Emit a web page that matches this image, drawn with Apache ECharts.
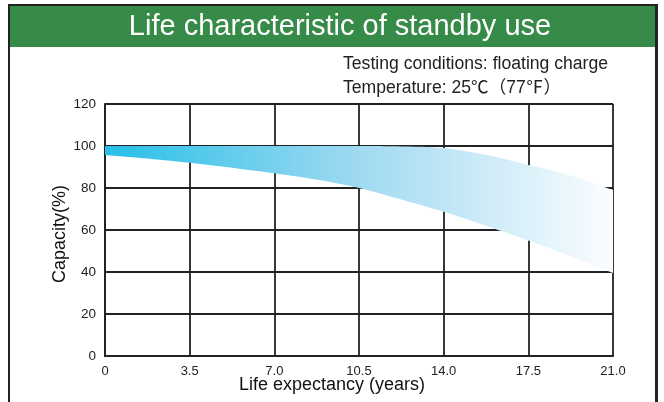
<!DOCTYPE html>
<html>
<head>
<meta charset="utf-8">
<script src="https://cdn.jsdelivr.net/npm/echarts@6/dist/echarts.min.js"></script>
<style>
html,body{margin:0;padding:0;background:#fff;}
#chart{width:664px;height:402px;}
</style>
</head>
<body>
<div id="chart"></div>
<script>
// Data
const titleText = 'Life characteristic of standby use';
const noteLines = ['Testing conditions: floating charge', 'Temperature: 25℃（77℉）'];
const xAxisTitle = 'Life expectancy (years)';
const yAxisTitle = 'Capacity(%)';
const xTicks = [0, 3.5, 7.0, 10.5, 14.0, 17.5, 21.0];
const yTicks = [0, 20, 40, 60, 80, 100, 120];
const years = [0, 1.75, 3.5, 5.25, 7, 8.75, 10.5, 12.25, 14, 15.75, 17.5, 19.25, 21];
const upperCapacity = [100, 100, 100, 100, 100, 100, 100, 99.8, 99, 95.8, 91, 86, 79];
const lowerCapacity = [95.7, 94, 92, 89.6, 87, 84, 80, 74.5, 68.7, 62, 55, 47.5, 39.5];

const chart = echarts.init(document.getElementById('chart'), null, {renderer: 'canvas'});
const font = '"Liberation Sans", Arial, sans-serif';

// smooth a pixel polyline with Catmull-Rom segments (drawing only)
function smoothPts(p) {
  const out = [];
  for (let i = 0; i < p.length - 1; i++) {
    const p0 = p[Math.max(i - 1, 0)], p1 = p[i], p2 = p[i + 1], p3 = p[Math.min(i + 2, p.length - 1)];
    for (let s = 0; s < 10; s++) {
      const t = s / 10, t2 = t * t, t3 = t2 * t;
      const f = (a, b, c, d) => 0.5 * ((2 * b) + (-a + c) * t + (2 * a - 5 * b + 4 * c - d) * t2 + (-a + 3 * b - 3 * c + d) * t3);
      out.push([f(p0[0], p1[0], p2[0], p3[0]), f(p0[1], p1[1], p2[1], p3[1])]);
    }
  }
  out.push(p[p.length - 1]);
  return out;
}

const option = {
  animation: false,
  backgroundColor: '#fff',
  grid: {left: 105, right: 51, top: 104, bottom: 46, containLabel: false},
  xAxis: {
    type: 'value', min: 0, max: 21, interval: 3.5,
    axisLine: {show: true, lineStyle: {color: '#222', width: 2}},
    axisTick: {show: false},
    splitLine: {show: true, lineStyle: {color: '#222', width: 1.8}},
    axisLabel: {
      color: '#222', fontSize: 13, fontFamily: font, margin: 9,
      formatter: v => (v === 0 ? '0' : v.toFixed(1))
    }
  },
  yAxis: {
    type: 'value', min: 0, max: 120, interval: 20,
    axisLine: {show: true, lineStyle: {color: '#222', width: 2}},
    axisTick: {show: false},
    splitLine: {show: true, lineStyle: {color: '#222', width: 1.8}},
    axisLabel: {color: '#222', fontSize: 13.5, fontFamily: font, margin: 9}
  },
  series: [{
    type: 'custom',
    clip: false,
    data: [[0, 100]],
    z: 5,
    renderItem: function (params, api) {
      const up = years.map((y, i) => api.coord([y, upperCapacity[i]]));
      const lo = years.map((y, i) => api.coord([y, lowerCapacity[i]]));
      const pts = smoothPts(up).concat(smoothPts(lo).reverse());
      const x0 = api.coord([years[0], 0])[0];
      const x1 = api.coord([years[years.length - 1], 0])[0];
      return {
        type: 'polygon',
        shape: {points: pts},
        style: {
          fill: new echarts.graphic.LinearGradient(x0, 0, x1, 0, [
            {offset: 0, color: '#27BFE8'},
            {offset: 0.5, color: '#A0DAF1'},
            {offset: 1, color: '#FBFDFF'}
          ], true),
          stroke: null
        }
      };
    }
  }],
  graphic: [
    {type: 'rect', shape: {x: 10, y: 6, width: 645, height: 41}, style: {fill: '#378B48'}, z: 10},
    {type: 'rect', shape: {x: 8, y: 4, width: 650, height: 2}, style: {fill: '#222'}, z: 11},
    {type: 'rect', shape: {x: 8, y: 4, width: 2, height: 398}, style: {fill: '#222'}, z: 11},
    {type: 'rect', shape: {x: 655, y: 4, width: 3, height: 398}, style: {fill: '#222'}, z: 11},
    {type: 'text', x: 340, y: 27, z: 12, style: {text: titleText, fill: '#fff', font: '29px ' + font, textAlign: 'center', textVerticalAlign: 'middle'}},
    {type: 'text', x: 343, y: 64, z: 12, style: {text: noteLines[0], fill: '#222', font: '17.6px ' + font, textAlign: 'left', textVerticalAlign: 'middle'}},
    {type: 'text', x: 343, y: 88, z: 12, style: {text: noteLines[1], fill: '#222', font: '17.6px ' + font + ', "Noto Sans CJK SC"', textAlign: 'left', textVerticalAlign: 'middle'}},
    {type: 'text', x: 332, y: 385, z: 12, style: {text: xAxisTitle, fill: '#111', font: '18px ' + font, textAlign: 'center', textVerticalAlign: 'middle'}},
    {type: 'text', x: 60, y: 234, rotation: Math.PI / 2, z: 12, style: {text: yAxisTitle, fill: '#111', font: '18px ' + font, textAlign: 'center', textVerticalAlign: 'middle'}}
  ]
};
chart.setOption(option);
</script>
</body>
</html>
